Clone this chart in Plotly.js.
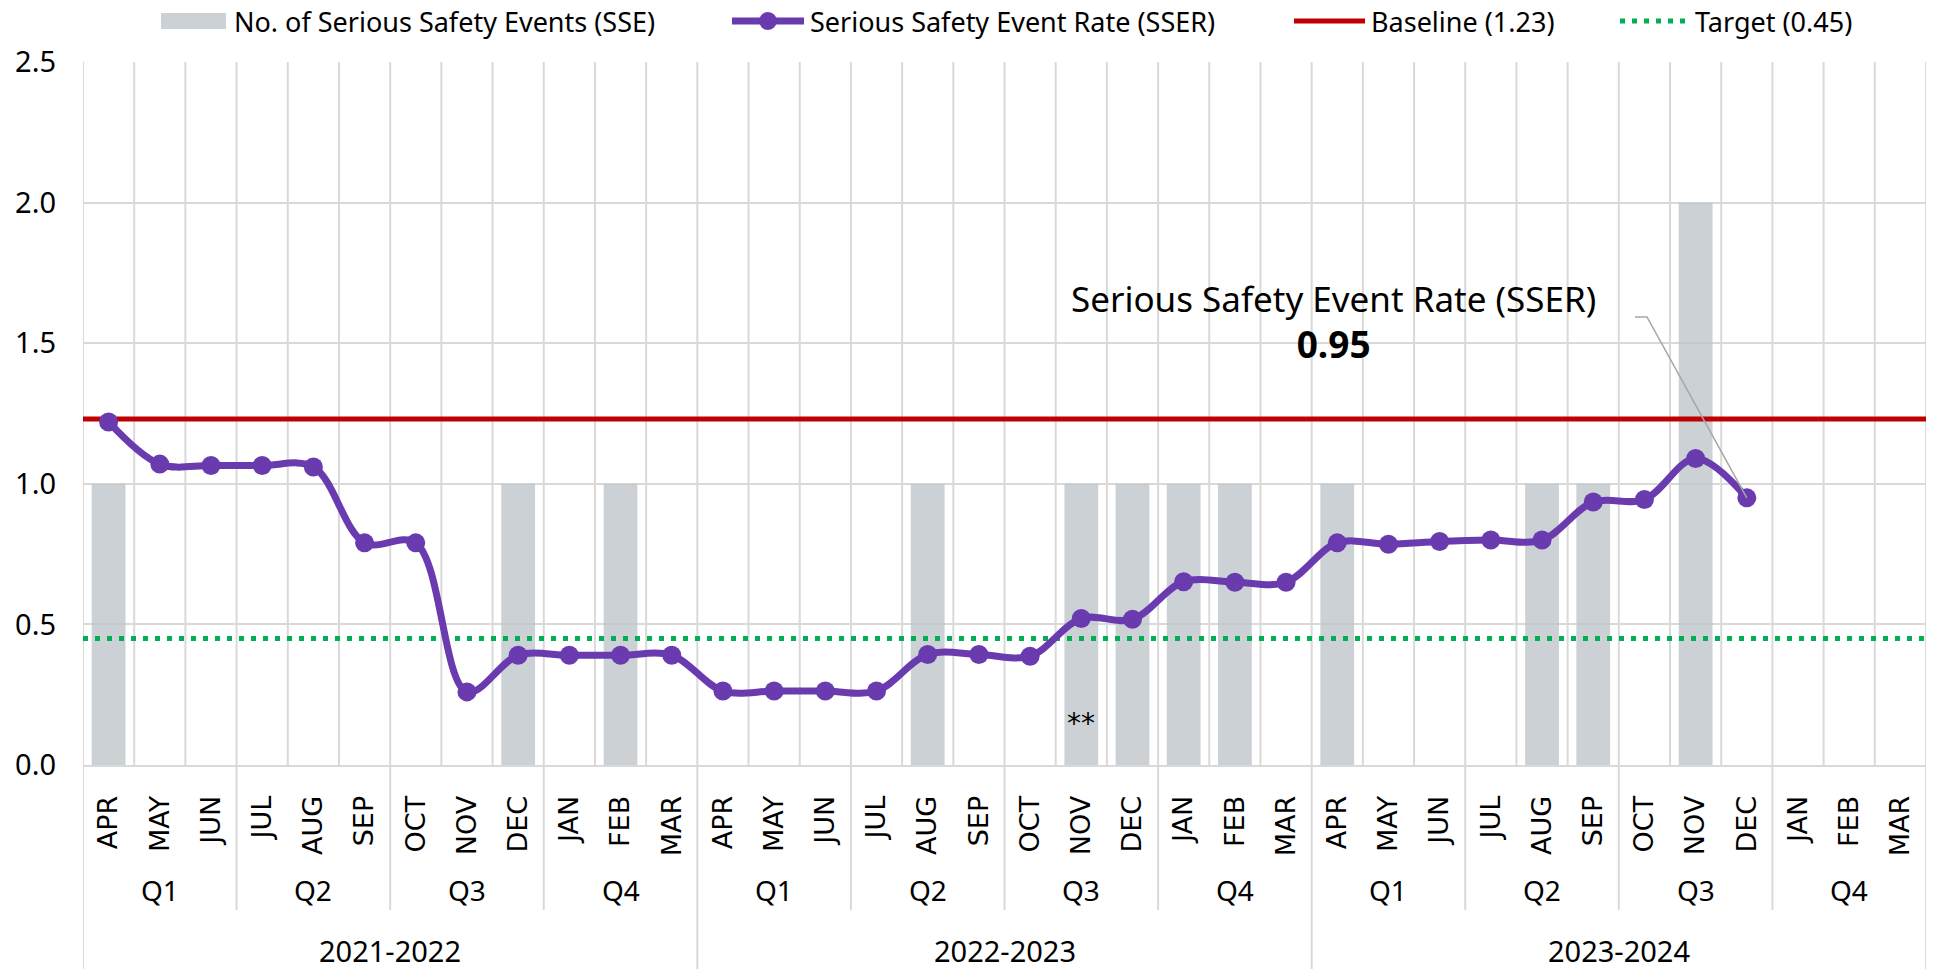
<!DOCTYPE html>
<html><head><meta charset="utf-8">
<script src="https://cdn.plot.ly/plotly-3.0.1.min.js"></script>
<style>html,body{margin:0;padding:0;background:#fff;} #chart{width:1933px;height:969px;}</style>
</head><body><div id="chart"></div>
<script>
// ---- data ----
const fiscalYears = ['2021-2022', '2022-2023', '2023-2024'];
const quarters = ['Q1', 'Q2', 'Q3', 'Q4'];
const months = ['APR', 'MAY', 'JUN', 'JUL', 'AUG', 'SEP', 'OCT', 'NOV', 'DEC', 'JAN', 'FEB', 'MAR'];
const sseCounts = [1, 0, 0, 0, 0, 0, 0, 0, 1, 0, 1, 0,
                   0, 0, 0, 0, 1, 0, 0, 1, 1, 1, 1, 0,
                   1, 0, 0, 0, 1, 1, 0, 2, 0, null, null, null];
const sserRates = [1.22, 1.07, 1.065, 1.065, 1.06, 0.79, 0.79, 0.26, 0.39, 0.39, 0.39, 0.39,
                   0.263, 0.263, 0.263, 0.263, 0.393, 0.393, 0.387, 0.521, 0.518, 0.652, 0.65, 0.65,
                   0.79, 0.785, 0.795, 0.80, 0.80, 0.935, 0.944, 1.09, 0.95, null, null, null];
const baselineRate = 1.23;
const targetRate = 0.45;
const footnoteMonthIndex = 19;
const footnoteText = '**';
const legendNames = ['No. of Serious Safety Events (SSE)', 'Serious Safety Event Rate (SSER)', 'Baseline (1.23)', 'Target (0.45)'];

// ---- build categories ----
const monthLabels = [];
fiscalYears.forEach(() => months.forEach(m => monthLabels.push(m)));
const idx = monthLabels.map((_, i) => i);
const nCat = monthLabels.length;

// ---- geometry helpers (pixel -> axis/paper) ----
const L = 83, R = 1926, T = 62, B = 765;
const W = R - L, H = B - T;
const px2x = px => (px - L) / W * nCat - 0.5;
const px2y = py => (B - py) / H * 2.5;
const paperX = px => (px - L) / W;
const paperY = py => (B - py) / H;

const FONT = 'Noto Sans, Open Sans, sans-serif';
const GRID = '#d9d9d9';
const PURPLE = '#6A3AAF';
const RED = '#C00000';
const GREEN = '#00B050';
const BARC = 'rgba(190,196,202,0.78)';

const traces = [
  {type: 'bar', x: idx, y: sseCounts, width: 0.66, marker: {color: BARC}, name: legendNames[0], hoverinfo: 'y'},
  {type: 'scatter', mode: 'lines', x: [-0.5, nCat - 0.5], y: [baselineRate, baselineRate],
   line: {color: RED, width: 5}, name: legendNames[2]},
  {type: 'scatter', mode: 'lines', x: [-0.5, nCat - 0.5], y: [targetRate, targetRate],
   line: {color: GREEN, width: 5, dash: '5px,7px'}, name: legendNames[3]},
  {type: 'scatter', mode: 'lines+markers', x: idx, y: sserRates, name: legendNames[1],
   line: {color: PURPLE, width: 7, shape: 'spline', smoothing: 1},
   marker: {color: PURPLE, size: 19}, cliponaxis: false}
];

const shapes = [];
// vertical gridlines between months
for (let k = 0; k <= nCat; k++) {
  shapes.push({type: 'line', xref: 'x', yref: 'y', x0: k - 0.5, x1: k - 0.5, y0: 0, y1: 2.5,
    line: {color: GRID, width: 2}, layer: 'below'});
}
// quarter separators below axis
for (let k = 1; k < nCat / 3; k++) {
  if (k % 4 === 0) continue;
  shapes.push({type: 'line', xref: 'x', yref: 'paper', x0: 3 * k - 0.5, x1: 3 * k - 0.5, y0: 0, y1: paperY(910),
    line: {color: GRID, width: 2}});
}
// year separators below axis
for (let k = 0; k <= fiscalYears.length; k++) {
  shapes.push({type: 'line', xref: 'x', yref: 'paper', x0: 12 * k - 0.5, x1: 12 * k - 0.5, y0: 0, y1: paperY(969),
    line: {color: GRID, width: 2}});
}

const annotations = [];
fiscalYears.forEach((fy, yi) => {
  quarters.forEach((q, qi) => {
    annotations.push({xref: 'x', yref: 'paper', x: yi * 12 + qi * 3 + 1, y: paperY(890), text: q,
      showarrow: false, yanchor: 'middle', font: {family: FONT, size: 28, color: '#000'}});
  });
  annotations.push({xref: 'x', yref: 'paper', x: yi * 12 + 5.5, y: paperY(950), text: fy,
    showarrow: false, yanchor: 'middle', font: {family: FONT, size: 29, color: '#000'}});
});

// footnote marker
annotations.push({xref: 'x', yref: 'y', x: footnoteMonthIndex, y: px2y(723), text: footnoteText,
  showarrow: false, font: {family: 'DejaVu Sans, sans-serif', size: 28, color: '#000'}});

// callout for last value
let lastIdx = -1;
sserRates.forEach((v, i) => { if (v !== null) lastIdx = i; });
const lastVal = sserRates[lastIdx];
annotations.push({xref: 'paper', yref: 'paper', x: paperX(1333), y: paperY(322), xanchor: 'center', yanchor: 'middle',
  text: legendNames[1] + '<br><b style="font-size:37px">' + lastVal.toFixed(2) + '</b>', showarrow: false,
  font: {family: FONT, size: 35, color: '#000'}});
const cy = px2y(317);
shapes.push({type: 'path', xref: 'x', yref: 'y',
  path: `M ${px2x(1635)},${cy} L ${px2x(1647)},${cy} L ${lastIdx},${lastVal}`,
  line: {color: '#a6a6a6', width: 1.5}, layer: 'above'});

// custom legend
const ly = 21;
const lfont = {family: FONT, size: 27, color: '#000'};
shapes.push({type: 'rect', xref: 'paper', yref: 'paper', x0: paperX(161), x1: paperX(226), y0: paperY(13), y1: paperY(29),
  fillcolor: BARC, line: {width: 0}});
annotations.push({xref: 'paper', yref: 'paper', x: paperX(232), y: paperY(ly), xanchor: 'left', yanchor: 'middle',
  text: legendNames[0], showarrow: false, font: lfont});
shapes.push({type: 'line', xref: 'paper', yref: 'paper', x0: paperX(732), x1: paperX(804), y0: paperY(ly), y1: paperY(ly),
  line: {color: PURPLE, width: 7}});
shapes.push({type: 'circle', xref: 'paper', yref: 'paper', x0: paperX(759), x1: paperX(777), y0: paperY(12), y1: paperY(30),
  fillcolor: PURPLE, line: {width: 0}});
annotations.push({xref: 'paper', yref: 'paper', x: paperX(808), y: paperY(ly), xanchor: 'left', yanchor: 'middle',
  text: legendNames[1], showarrow: false, font: lfont});
shapes.push({type: 'line', xref: 'paper', yref: 'paper', x0: paperX(1294), x1: paperX(1365), y0: paperY(ly), y1: paperY(ly),
  line: {color: RED, width: 5}});
annotations.push({xref: 'paper', yref: 'paper', x: paperX(1369), y: paperY(ly), xanchor: 'left', yanchor: 'middle',
  text: legendNames[2], showarrow: false, font: lfont});
shapes.push({type: 'line', xref: 'paper', yref: 'paper', x0: paperX(1620), x1: paperX(1690), y0: paperY(ly), y1: paperY(ly),
  line: {color: GREEN, width: 5, dash: '5px,7px'}});
annotations.push({xref: 'paper', yref: 'paper', x: paperX(1693), y: paperY(ly), xanchor: 'left', yanchor: 'middle',
  text: legendNames[3], showarrow: false, font: lfont});

const layout = {
  width: 1933, height: 969,
  margin: {l: L, r: 1933 - R, t: T, b: 969 - B, pad: 0},
  paper_bgcolor: '#fff', plot_bgcolor: '#fff',
  showlegend: false,
  barmode: 'overlay',
  xaxis: {range: [-0.5, nCat - 0.5], tickvals: idx, ticktext: monthLabels, tickangle: -90,
    tickfont: {family: 'DejaVu Sans, sans-serif', size: 27, color: '#000'},
    ticks: '', ticklabelstandoff: 18, showgrid: false, zeroline: false,
    showline: true, linecolor: GRID, linewidth: 2, automargin: false, fixedrange: true},
  yaxis: {range: [0, 2.5], tickvals: [0, 0.5, 1, 1.5, 2, 2.5], tickformat: '.1f',
    tickfont: {family: FONT, size: 29, color: '#000'}, ticklabelstandoff: 26,
    showgrid: true, gridcolor: GRID, gridwidth: 2, zeroline: false, showline: false,
    automargin: false, fixedrange: true},
  shapes: shapes,
  annotations: annotations
};

Plotly.newPlot('chart', traces, layout, {displayModeBar: false, staticPlot: true});
</script>
</body></html>
